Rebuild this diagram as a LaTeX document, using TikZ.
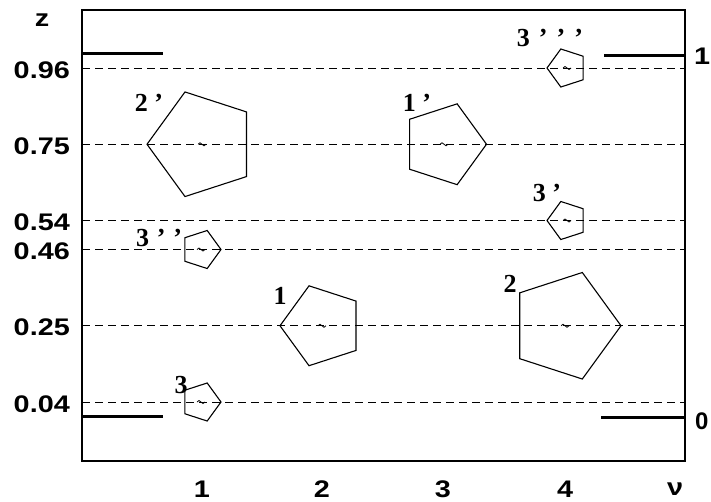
\documentclass[tikz,border=0pt]{standalone}
\usepackage{fontspec}
\setmainfont{Liberation Serif}
\setsansfont{Liberation Sans}
\newcommand\sx[1]{\scalebox{1.2}[1]{#1}}
\newcommand\pent[4]{%
  \draw[pent,shift={(#1,#2)}] (#4:#3) -- (#4+72:#3) -- (#4+144:#3) -- (#4+216:#3) -- (#4+288:#3) -- cycle;
  \draw[cmark,shift={(#1,#2)}] (-4,0) sin (-2,-1.5) cos (0,0) sin (2,1.5) cos (4,0);}
\begin{document}
\begin{tikzpicture}[x=1pt,y=-1pt,
  ax/.style={font=\sffamily\bfseries\fontsize{24}{24}\selectfont, inner sep=0pt},
  lab/.style={font=\rmfamily\bfseries\fontsize{26}{26}\selectfont, inner sep=0pt},
  gridline/.style={dash pattern=on 8pt off 5pt, line width=1pt},
  levelbar/.style={line width=3pt},
  pent/.style={line width=1.1pt, line join=miter},
  cmark/.style={line width=0.8pt},
  frame/.style={line width=1.6pt}]
\useasboundingbox (0,0) rectangle (711,501);
\fill[white] (0,0) rectangle (711,501);
% frame
\draw[frame] (82,10) rectangle (685,461);
% dashed levels
\foreach \yy in {68,144.25,220.5,249.5,325.75,402} {\draw[gridline] (82,\yy) -- (685,\yy);}
% thick levels
\draw[levelbar] (82,53) -- (163,53);
\draw[levelbar] (604,55) -- (685,55);
\draw[levelbar] (82,416) -- (163,416);
\draw[levelbar] (601,417) -- (685,417);
% tick labels
\node[ax] (z) at (42,20) {\sx{z}};
\node[ax,anchor=east] (t96) at (70,70) {\sx{0.96}};
\node[ax,anchor=east] (t75) at (70,146.5) {\sx{0.75}};
\node[ax,anchor=east] (t54) at (70,222.5) {\sx{0.54}};
\node[ax,anchor=east] (t46) at (70,251.5) {\sx{0.46}};
\node[ax,anchor=east] (t25) at (70,327.5) {\sx{0.25}};
\node[ax,anchor=east] (t04) at (70,404) {\sx{0.04}};
\node[ax] (r1) at (702,56) {\sx{1}};
\node[ax,anchor=west] (r0) at (695,421) {0};
\node[ax] (n1) at (202,489) {\sx{1}};
\node[ax] (n2) at (322,489) {\sx{2}};
\node[ax] (n3) at (443,489) {\sx{3}};
\node[ax] (n4) at (565,489) {\sx{4}};
\node[ax] (nu) at (675,489) {\sx{ν}};
% pentagons
\pent{202}{144.25}{55}{180}
\pent{444}{144.25}{42.5}{0}
\pent{322}{325.75}{42}{180}
\pent{565}{325.75}{56}{0}
\pent{567}{68}{20}{180}
\pent{567}{220.5}{20}{180}
\pent{201}{249.5}{20}{0}
\pent{201}{402}{20}{0}
% labels
\node[lab] (l2p) at (149,103) {2 ’};
\node[lab] (l1p) at (417,103) {1 ’};
\node[lab] (l1) at (280,296) {1};
\node[lab] (l2) at (510,284) {2};
\node[lab] (l3ppp) at (550,38) {3\hspace{0.35em}’\hspace{0.35em}’\hspace{0.35em}’};
\node[lab] (l3p) at (547,193) {3 ’};
\node[lab] (l3pp) at (159,238) {3\hspace{0.3em}’\hspace{0.3em}’};
\node[lab] (l3) at (181,385) {3};
\end{tikzpicture}
\end{document}
